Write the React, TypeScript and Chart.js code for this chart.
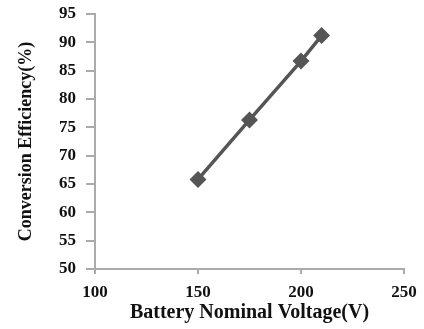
import React, { useEffect, useRef } from "react";
import { Chart, registerables } from "chart.js";

Chart.register(...registerables);

const voltages = [150, 175, 200, 210];
const efficiency = [65.8, 76.3, 86.7, 91.2];
const xTicks = [100, 150, 200, 250];
const yTicks = [50, 55, 60, 65, 70, 75, 80, 85, 90, 95];

export default function App() {
  const ref = useRef<HTMLCanvasElement | null>(null);

  useEffect(() => {
    if (!ref.current) return;
    const font = "'Liberation Serif', 'Times New Roman', serif";
    const chart = new Chart(ref.current, {
      type: "scatter",
      data: {
        datasets: [
          {
            data: voltages.map((v, i) => ({ x: v, y: efficiency[i] })),
            showLine: true,
            borderColor: "#555555",
            backgroundColor: "#555555",
            borderWidth: 3.5,
            pointStyle: "rectRot",
            pointRadius: 6,
            pointHoverRadius: 6,
          },
        ],
      },
      options: {
        animation: false,
        responsive: true,
        maintainAspectRatio: false,
        layout: { padding: { left: 0, right: 20, top: 14, bottom: 0 } },
        plugins: { legend: { display: false }, tooltip: { enabled: false } },
        scales: {
          x: {
            type: "linear",
            min: 100,
            max: 250,
            afterBuildTicks: (s: any) => {
              s.ticks = xTicks.map((v) => ({ value: v }));
            },
            afterFit: (s: any) => {
              s.height = 60;
              s.paddingLeft = 0;
              s.paddingRight = 0;
            },
            border: { color: "#aaaaaa", width: 2 },
            grid: { drawOnChartArea: false, tickLength: 5, color: "#aaaaaa", lineWidth: 2 },
            ticks: {
              padding: 8,
              color: "#111111",
              font: { family: font, size: 17, weight: "bold" },
            },
            title: {
              display: true,
              text: "Battery Nominal Voltage(V)",
              color: "#111111",
              padding: { top: 0, bottom: 4 },
              font: { family: font, size: 20, weight: "bold" },
            },
          },
          y: {
            type: "linear",
            min: 50,
            max: 95,
            afterBuildTicks: (s: any) => {
              s.ticks = yTicks.map((v) => ({ value: v }));
            },
            afterFit: (s: any) => {
              s.width = 95;
              s.paddingTop = 0;
              s.paddingBottom = 0;
            },
            border: { color: "#aaaaaa", width: 2 },
            grid: { drawOnChartArea: false, tickLength: 9, color: "#aaaaaa", lineWidth: 2 },
            ticks: {
              padding: 10,
              color: "#111111",
              font: { family: font, size: 17, weight: "bold" },
            },
            title: {
              display: true,
              text: "Conversion Efficiency(%)",
              color: "#111111",
              padding: { top: 16, bottom: 0 },
              font: { family: font, size: 18, weight: "bold" },
            },
          },
        },
      },
    });
    return () => chart.destroy();
  }, []);

  return (
    <div style={{ position: "fixed", left: 0, top: 0, width: 424, height: 329, background: "#fff" }}>
      <canvas ref={ref} />
    </div>
  );
}
